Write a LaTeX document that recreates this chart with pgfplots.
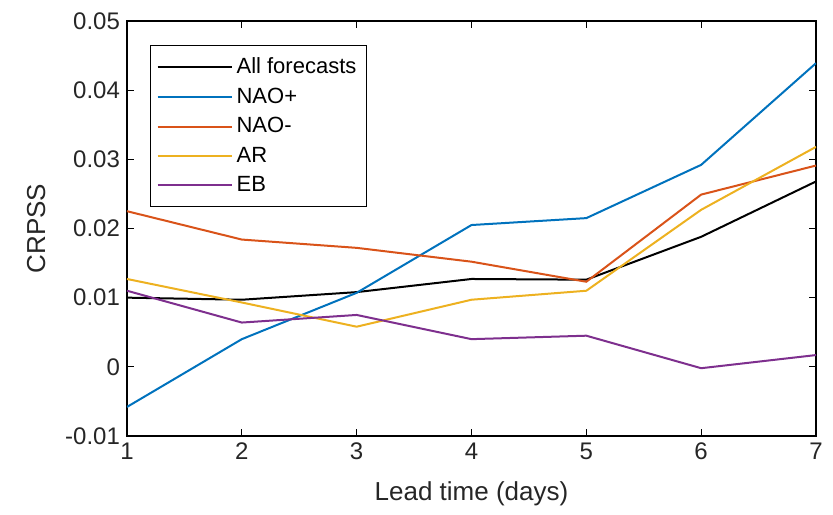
\documentclass[border=0pt]{standalone}
\usepackage{pgfplots}
\pgfplotsset{compat=1.18}
\usepackage{fontspec}
\setmainfont{Liberation Sans}
\definecolor{c1}{rgb}{0,0.447,0.741}
\definecolor{c2}{rgb}{0.85,0.325,0.098}
\definecolor{c3}{rgb}{0.929,0.694,0.125}
\definecolor{c4}{rgb}{0.494,0.184,0.556}
\begin{document}
\begin{tikzpicture}
\begin{axis}[
  scale only axis, width=344.5pt, height=207.5pt,
  xmin=1, xmax=7, ymin=-0.01, ymax=0.05,
  xtick={1,...,7},
  ytick={-0.01,0,0.01,0.02,0.03,0.04,0.05},
  yticklabels={-0.01,0,0.01,0.02,0.03,0.04,0.05},
  /pgf/number format/assume math mode=true,
  scaled y ticks=false,
  tick align=inside, major tick length=3.5pt,
  tick style={black, line width=0.5pt},
  axis line style={black, line width=0.6pt},
  ticklabel style={font=\fontsize{12}{14}\selectfont, text=black!85},
  xlabel={Lead time (days)}, ylabel={CRPSS},
  label style={font=\fontsize{13}{15}\selectfont, text=black!85},
  xlabel style={yshift=-4pt},
  ylabel style={yshift=3pt},
  legend style={at={(0.0334,0.942)}, anchor=north west, draw=black, line width=0.6pt,
    font=\fontsize{11}{12}\selectfont, row sep=1.6pt, inner xsep=3pt, inner ysep=4pt},
  legend cell align=left,
  legend image code/.code={\draw[#1, line width=1pt] (0cm,0cm) -- (1.3cm,0cm);},
  every axis plot/.append style={line width=1pt},
]
\addplot[black] coordinates {(1,0.0100) (2,0.0097) (3,0.0108) (4,0.0127) (5,0.0126) (6,0.0188) (7,0.0268)};
\addplot[c1] coordinates {(1,-0.0058) (2,0.0040) (3,0.0107) (4,0.0205) (5,0.0215) (6,0.0292) (7,0.0439)};
\addplot[c2] coordinates {(1,0.0225) (2,0.0184) (3,0.0172) (4,0.0152) (5,0.0123) (6,0.0249) (7,0.0291)};
\addplot[c3] coordinates {(1,0.0127) (2,0.0093) (3,0.0058) (4,0.0097) (5,0.0110) (6,0.0227) (7,0.0318)};
\addplot[c4] coordinates {(1,0.0110) (2,0.0064) (3,0.0075) (4,0.0040) (5,0.0045) (6,-0.0002) (7,0.0017)};
\legend{All forecasts, NAO+, NAO-, AR, EB}
\coordinate (bl) at (rel axis cs:0,0);
\coordinate (tr) at (rel axis cs:1,1);
\end{axis}
\pgfresetboundingbox
\path ([shift={(-63.5pt,-39.5pt)}]bl) rectangle ([shift={(8.5pt,10.5pt)}]tr);
\end{tikzpicture}
\end{document}
